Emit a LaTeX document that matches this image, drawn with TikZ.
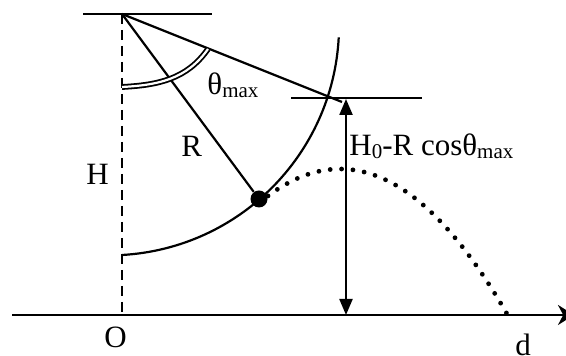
\documentclass[tikz,border=0pt]{standalone}
\usepackage{fontspec}
\setmainfont{Liberation Serif}
\usetikzlibrary{arrows.meta}
\newcommand\lbsub[1]{\raisebox{-1.5pt}{\fontsize{10.5}{10.5}\selectfont #1}}
\begin{document}
\begin{tikzpicture}[x=0.5pt,y=0.5pt,
  ln/.style={line width=1.1pt},
  lbl/.style={inner sep=0pt, anchor=base west, font=\fontsize{15.5}{18}\selectfont},
  dotline/.style={line width=2.4pt, line cap=round, dash pattern=on 0pt off 5.7pt},
  dashline/.style={line width=1.1pt, dash pattern=on 5pt off 3pt},
  balls/.style={circle, fill=black, inner sep=0pt, minimum size=8.5pt},
  ]
\useasboundingbox (0,0) rectangle (566,356);
% coordinates
\coordinate (P) at (122,342);
\coordinate (Tl) at (83,342);
\coordinate (Tr) at (212,342);
\coordinate (Ob) at (122,41);
\coordinate (Al) at (12,41);
\coordinate (Ar) at (574,41);
\coordinate (E) at (342,254);
\coordinate (Hl) at (291,258);
\coordinate (Hr) at (422,258);
\coordinate (Vt) at (346,257);
\coordinate (Vb) at (346,41);
\coordinate (Cb) at (122,101);
\coordinate (Mb) at (122,269);
\coordinate (Me) at (208,307);
\node[balls] (ball) at (259,157) {};
% lines
\draw[ln] (Tl) -- (Tr);
\draw[dashline] (P) -- (Ob);
\draw[ln, -{Stealth[length=8pt,width=10pt]}] (Al) -- (Ar);
\draw[ln] (P) -- (E);
\draw[ln] (Hl) -- (Hr);
\draw[ln] (P) -- (ball);
\draw[ln] (Cb) arc[start angle=-86.77, end angle=-3, radius=115pt];
\draw[line width=0.9pt, double, double distance=1.1pt] (Mb) to[out=3, in=235] (Me);
\draw[ln, {Triangle[length=8pt,width=6.5pt]}-{Triangle[length=8pt,width=6.5pt]}] (Vt) -- (Vb);
\draw[dotline] plot[domain=268:508, samples=80] (\x, {187-(0.0721*(\x-340))^2});
% labels
\node[lbl] (th) at (207,261) {θ\lbsub{max}};
\node[lbl] (R) at (181,199) {R};
\node[lbl] (H) at (86,171) {H};
\node[lbl] (HR) at (349,200) {H\lbsub{0}-R cosθ\lbsub{max}};
\node[lbl] (O) at (104,8) {O};
\node[lbl] (d) at (515,0) {d};
\end{tikzpicture}
\end{document}
